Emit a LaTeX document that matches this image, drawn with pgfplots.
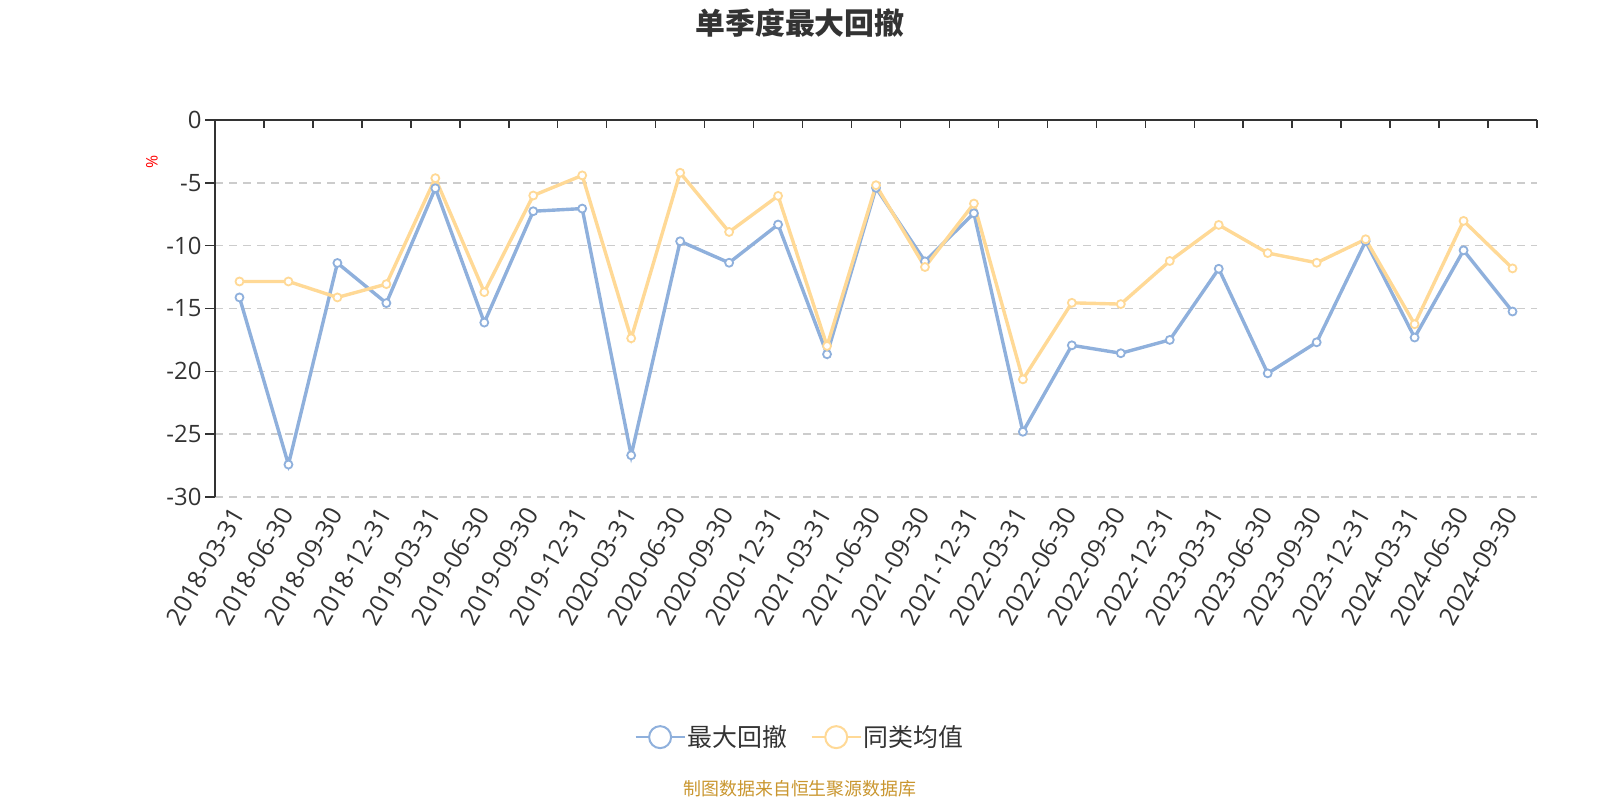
\documentclass[border=0pt]{standalone}
\usepackage{fontspec}
\setmainfont{Open Sans}
\newfontfamily\cjk{Noto Sans CJK SC}
\usepackage{pgfplots}
\pgfplotsset{compat=1.18}

\definecolor{maxdd}{HTML}{8FB0DC}
\definecolor{peer}{HTML}{FFD996}
\definecolor{axisgray}{HTML}{333333}
\definecolor{gridgray}{HTML}{CCCCCC}
\definecolor{src}{HTML}{C9962F}

% quarter index, max drawdown, peer average (%)
\pgfplotstableread{
x  dd      peer
0  -14.12  -12.85
1  -27.42  -12.85
2  -11.38  -14.12
3  -14.57  -13.06
4  -5.43   -4.63
5  -16.12  -13.70
6  -7.26   -6.01
7  -7.05   -4.41
8  -26.68  -17.37
9  -9.65   -4.20
10 -11.36  -8.91
11 -8.32   -6.04
12 -18.64  -17.98
13 -5.40   -5.19
14 -11.25  -11.70
15 -7.42   -6.65
16 -24.81  -20.64
17 -17.93  -14.55
18 -18.56  -14.65
19 -17.50  -11.22
20 -11.84  -8.35
21 -20.16  -10.59
22 -17.69  -11.36
23 -9.65   -9.49
24 -17.31  -16.25
25 -10.37  -8.03
26 -15.24  -11.81
}\drawdown

\begin{document}
\begin{tikzpicture}[x=1bp,y=1bp]
\path[use as bounding box] (0,0) rectangle (1600,800);

\node[font=\cjk\bfseries\fontsize{30}{32}\selectfont, text=axisgray] at (800,777) {单季度最大回撤};

\begin{axis}[
  at={(215bp,303bp)}, anchor=south west,
  scale only axis, width=1322bp, height=377bp,
  xmin=-0.5, xmax=26.5, ymin=-30, ymax=0,
  axis lines=left,
  axis line style={-, draw=axisgray, line width=1.5bp},
  x axis line style={draw=none},
  xtick={0,...,26},
  xticklabels={2018-03-31,2018-06-30,2018-09-30,2018-12-31,2019-03-31,2019-06-30,2019-09-30,2019-12-31,2020-03-31,2020-06-30,2020-09-30,2020-12-31,2021-03-31,2021-06-30,2021-09-30,2021-12-31,2022-03-31,2022-06-30,2022-09-30,2022-12-31,2023-03-31,2023-06-30,2023-09-30,2023-12-31,2024-03-31,2024-06-30,2024-09-30},
  xtick style={draw=none},
  xticklabel style={rotate=60, anchor=east, font=\fontsize{25}{27}\selectfont, text=axisgray},
  ytick={-30,-25,...,0},
  ytick style={draw=axisgray, line width=1.5bp},
  tick align=outside,
  major tick length=10bp,
  yticklabel style={font=\fontsize{24}{26}\selectfont, text=axisgray},
  /pgf/number format/assume math mode=true,
  ymajorgrids,
  grid style={draw=gridgray, line width=1.5bp, dash pattern=on 8bp off 6bp},
  ylabel={\%},
  ylabel style={at={(rel axis cs:-0.0477,0.889)}, anchor=center, text=red, font=\fontsize{16}{18}\selectfont},
  clip=false,
  legend columns=2,
  legend style={at={(0.4425,-0.637)}, anchor=center, draw=none, fill=none,
    font=\cjk\fontsize{25}{27}\selectfont, text=axisgray,
    /tikz/every even column/.append style={column sep=21bp}},
  legend image code/.code={
    \draw[#1, mark=none, line width=2.5bp] (0bp,0bp) -- (49bp,0bp);
    \draw[#1, mark=none, line width=2bp, fill=white] (24.5bp,0bp) circle (11bp);
  },
]
\addplot[color=maxdd, line width=3.4bp, mark=*, mark size=4bp, mark options={fill=white, line width=1.8bp}] table[x=x, y=dd] {\drawdown};
\addlegendentry{最大回撤}
\addplot[color=peer, line width=3.4bp, mark=*, mark size=4bp, mark options={fill=white, line width=1.8bp}] table[x=x, y=peer] {\drawdown};
\addlegendentry{同类均值}

% category axis line at zero with boundary ticks
\draw[axisgray, line width=1.5bp] (axis cs:-0.5,0) -- (axis cs:26.5,0);
\pgfplotsinvokeforeach{0,...,27}{
  \draw[axisgray, line width=1.5bp] (axis cs:#1-0.5,0) -- (axis cs:#1-0.5,-0.65);
}
\end{axis}

\node[font=\cjk\fontsize{18}{20}\selectfont, text=src] at (800,11) {制图数据来自恒生聚源数据库};
\end{tikzpicture}
\end{document}
